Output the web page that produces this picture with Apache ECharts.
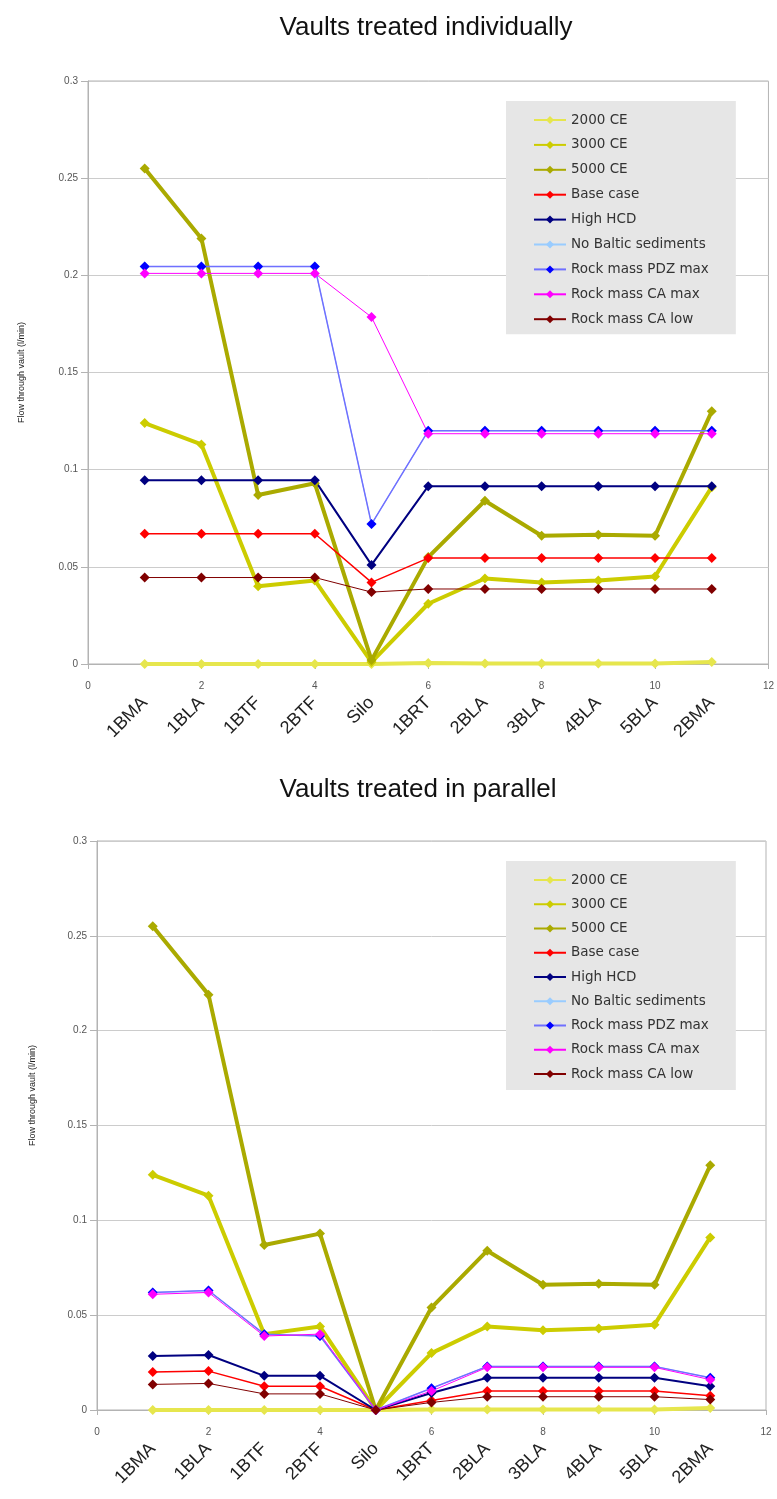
<!DOCTYPE html>
<html>
<head>
<meta charset="utf-8">
<script src="https://cdn.jsdelivr.net/npm/echarts@6/dist/echarts.min.js"></script>
<style>
html,body{margin:0;padding:0;background:#fff;}
#c{width:777px;height:1499px;}
</style>
</head>
<body>
<div id="c"></div>
<script>
// ---- data ----
const vaults = ['1BMA','1BLA','1BTF','2BTF','Silo','1BRT','2BLA','3BLA','4BLA','5BLA','2BMA'];
const vaultPos = [1,2,3,4,5,6,7,8,9,10,11];
const seriesNames = ['2000 CE','3000 CE','5000 CE','Base case','High HCD','No Baltic sediments','Rock mass PDZ max','Rock mass CA max','Rock mass CA low'];

// Vaults treated individually
const ind2000   = [0,0,0,0,0,0.0005,0.0003,0.0003,0.0003,0.0003,0.001];
const ind3000   = [0.124,0.113,0.040,0.043,0.001,0.031,0.044,0.042,0.043,0.045,0.091];
const ind5000   = [0.255,0.219,0.087,0.093,0.002,0.055,0.084,0.066,0.0665,0.066,0.130];
const indBase   = [0.067,0.067,0.067,0.067,0.042,0.0545,0.0545,0.0545,0.0545,0.0545,0.0545];
const indHCD    = [0.0946,0.0946,0.0946,0.0946,0.051,0.0915,0.0915,0.0915,0.0915,0.0915,0.0915];
const indNoBalt = [0.2045,0.2045,0.2045,0.2045,0.072,0.120,0.120,0.120,0.120,0.120,0.120];
const indPDZ    = [0.2045,0.2045,0.2045,0.2045,0.072,0.120,0.120,0.120,0.120,0.120,0.120];
const indCAmax  = [0.201,0.201,0.201,0.201,0.1785,0.1185,0.1185,0.1185,0.1185,0.1185,0.1185];
const indCAlow  = [0.0445,0.0445,0.0445,0.0445,0.037,0.0386,0.0386,0.0386,0.0386,0.0386,0.0386];

// Vaults treated in parallel
const par2000   = [0,0,0,0,0,0.0003,0.0003,0.0003,0.0003,0.0003,0.001];
const par3000   = [0.124,0.113,0.040,0.044,0,0.030,0.044,0.042,0.043,0.045,0.091];
const par5000   = [0.255,0.219,0.087,0.093,0,0.054,0.084,0.066,0.0665,0.066,0.129];
const parBase   = [0.020,0.0205,0.0125,0.0125,0,0.005,0.010,0.010,0.010,0.010,0.0075];
const parHCD    = [0.0285,0.029,0.018,0.018,0,0.009,0.017,0.017,0.017,0.017,0.0125];
const parNoBalt = [0.062,0.063,0.040,0.039,0,0.0115,0.023,0.023,0.023,0.023,0.017];
const parPDZ    = [0.062,0.063,0.040,0.039,0,0.0115,0.023,0.023,0.023,0.023,0.017];
const parCAmax  = [0.061,0.062,0.039,0.040,0,0.010,0.0225,0.0225,0.0225,0.0225,0.016];
const parCAlow  = [0.0135,0.014,0.0085,0.0085,0,0.004,0.007,0.007,0.007,0.007,0.0055];

const indData = [ind2000,ind3000,ind5000,indBase,indHCD,indNoBalt,indPDZ,indCAmax,indCAlow];
const parData = [par2000,par3000,par5000,parBase,parHCD,parNoBalt,parPDZ,parCAmax,parCAlow];

// ---- styles ----
const styles = [
  {line:'#e6e64d', mark:'#e6e64d', w:4},
  {line:'#cccc00', mark:'#cccc00', w:4},
  {line:'#aaaa00', mark:'#aaaa00', w:4},
  {line:'#ff0000', mark:'#ff0000', w:1.5},
  {line:'#000080', mark:'#000080', w:2},
  {line:'#99ccff', mark:'#99ccff', w:1},
  {line:'#7070ff', mark:'#0000ff', w:1.5},
  {line:'#ff00ff', mark:'#ff00ff', w:1},
  {line:'#800000', mark:'#800000', w:1}
];
const FONT = 'Liberation Sans, Arial, sans-serif';
const LFONT = 'DejaVu Sans, Verdana, sans-serif';
const LABEL_SHIFT = 0.11; // small rightward shift of the rotated vault labels (axis units)

const chart = echarts.init(document.getElementById('c'), null, {renderer:'canvas'});

function makeSeries(dataSets, axisIdx){
  return dataSets.map((arr, i) => ({
    name: seriesNames[i],
    type: 'line',
    xAxisIndex: axisIdx*2,
    yAxisIndex: axisIdx,
    symbol: 'diamond',
    symbolSize: 10,
    showAllSymbol: true,
    animation: false,
    lineStyle: {color: styles[i].line, width: styles[i].w},
    itemStyle: {color: styles[i].mark},
    data: arr.map((v, k) => [vaultPos[k], v])
  }));
}

const grids = [
  {left:88, top:81, width:681, height:583},
  {left:97, top:841, width:669, height:569}
];

function numX(g){
  return {
    type:'value', gridIndex:g, min:0, max:12, interval:2,
    axisLine:{show:true, lineStyle:{color:'#b3b3b3'}},
    axisTick:{show:true, inside:false, length:5, lineStyle:{color:'#b3b3b3'}},
    axisLabel:{color:'#555', fontSize:10, fontFamily:FONT, margin:17},
    splitLine:{show:false}
  };
}
function catX(g){
  return {
    type:'value', gridIndex:g, min:-LABEL_SHIFT, max:12-LABEL_SHIFT, interval:1, position:'bottom',
    axisLine:{show:false}, axisTick:{show:false}, splitLine:{show:false},
    axisLabel:{
      rotate:45, margin:36, fontSize:18, color:'#222', fontFamily:FONT,
      showMinLabel:true, showMaxLabel:true,
      formatter: v => { const k = vaultPos.indexOf(Math.round(v + LABEL_SHIFT)); return k >= 0 ? vaults[k] : ''; }
    }
  };
}
function yAx(g, gap, shift){
  return {
    type:'value', gridIndex:g, min:0, max:0.3, interval:0.05,
    name:'Flow through vault (l/min)', nameLocation:'middle', nameGap:gap,
    nameTextStyle:{fontSize:9, color:'#222', fontFamily:FONT, padding:[0,0,0,shift]},
    axisLine:{show:true, lineStyle:{color:'#b3b3b3'}},
    axisTick:{show:true, length:7, lineStyle:{color:'#b3b3b3'}},
    axisLabel:{color:'#555', fontSize:10, fontFamily:FONT, margin:10},
    splitLine:{show:true, lineStyle:{color:'#cccccc', width:1}}
  };
}
function legend(left, top, gap, padB){
  return {
    show:true, orient:'vertical', left:left, top:top,
    backgroundColor:'#e6e6e6', borderRadius:0,
    padding:[12, 27, padB, 27],
    itemWidth:32, itemHeight:10, itemGap:gap,
    textStyle:{fontSize:13.5, color:'#333', fontFamily:LFONT},
    data: seriesNames,
    selectedMode:false
  };
}

const option = {
  backgroundColor:'#ffffff',
  animation:false,
  title:[
    {text:'Vaults treated individually', left:421, top:10, textAlign:'center',
     textStyle:{fontSize:26, fontWeight:'normal', color:'#111', fontFamily:FONT}},
    {text:'Vaults treated in parallel', left:413, top:772, textAlign:'center',
     textStyle:{fontSize:26, fontWeight:'normal', color:'#111', fontFamily:FONT}}
  ],
  grid: grids.map(g => Object.assign({show:true, borderColor:'#b3b3b3', borderWidth:1, backgroundColor:'transparent'}, g)),
  xAxis:[numX(0), catX(0), numX(1), catX(1)],
  yAxis:[yAx(0, 62, 0), yAx(1, 60, 60)],
  legend:[legend(506, 101, 10.9, 8), legend(506, 861, 10.25, 9)],
  series: makeSeries(indData, 0).concat(makeSeries(parData, 1))
};
chart.setOption(option);
</script>
</body>
</html>
